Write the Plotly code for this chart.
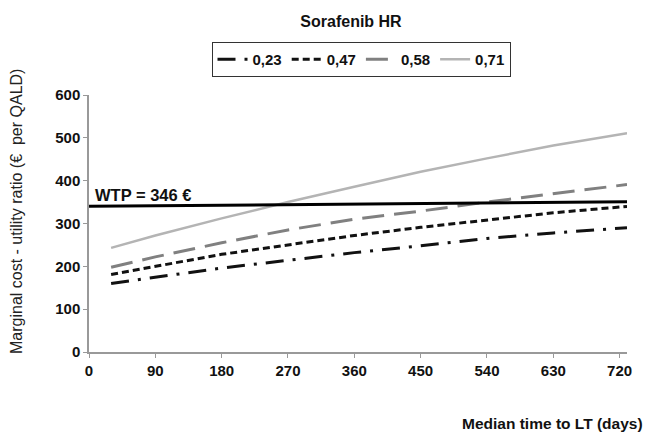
import plotly.graph_objects as go

days = [30, 90, 180, 270, 360, 450, 540, 630, 730]
hr_labels = ["0,23", "0,47", "0,58", "0,71"]
ratio_023 = [160, 175, 196, 214, 232, 248, 265, 278, 290]
ratio_047 = [181, 200, 228, 250, 272, 291, 308, 325, 340]
ratio_058 = [198, 222, 255, 285, 310, 329, 350, 370, 391]
ratio_071 = [243, 272, 312, 350, 386, 421, 452, 482, 511]
wtp_x = [0, 740]
wtp_y = [340, 351]
x_ticks = [0, 90, 180, 270, 360, 450, 540, 630, 720]
y_ticks = [0, 100, 200, 300, 400, 500, 600]

FONT = "Liberation Sans, Arial, sans-serif"

styles = [
    dict(color="#111111", width=3, dash="18px,9px,3px,9px"),
    dict(color="#111111", width=3, dash="7px,4px"),
    dict(color="#808080", width=3, dash="22px,10px"),
    dict(color="#b4b4b4", width=2.5, dash="solid"),
]

fig = go.Figure()
for lab, vals, st in zip(hr_labels, [ratio_023, ratio_047, ratio_058, ratio_071], styles):
    fig.add_trace(go.Scatter(x=days, y=vals, mode="lines", name=lab, line=st))

fig.add_trace(go.Scatter(x=wtp_x, y=wtp_y, mode="lines", showlegend=False,
                         line=dict(color="#000000", width=3), cliponaxis=False))

tickfont = dict(size=15, family=FONT, color="#111", weight="bold")

fig.update_layout(
    width=646, height=436,
    margin=dict(l=89, r=19, t=95, b=84, autoexpand=False),
    paper_bgcolor="white", plot_bgcolor="white",
    font=dict(family=FONT, size=15, color="#111"),
    title=dict(text="<b>Sorafenib HR</b>", x=(351 - 89) / 538, xref="paper",
               xanchor="center", y=1 - 21 / 436, yanchor="middle",
               font=dict(size=16, family=FONT, color="#111")),
    legend=dict(orientation="h", x=(361 - 89) / 538, xanchor="center",
                y=(352 - 42) / 257, yanchor="top",
                bordercolor="#333", borderwidth=1,
                font=dict(size=15, family=FONT, color="#111", weight="bold"),
                itemwidth=30, traceorder="normal"),
    showlegend=True,
    xaxis=dict(range=[0, 730], tickvals=x_ticks, ticks="outside", ticklen=4,
               tickcolor="#999", showline=True, linecolor="#999", linewidth=1.5,
               showgrid=False, zeroline=False, tickfont=tickfont),
    yaxis=dict(range=[0, 600], tickvals=y_ticks, ticks="outside", ticklen=4,
               tickcolor="#999", showline=True, linecolor="#999", linewidth=1.5,
               showgrid=False, zeroline=False, tickfont=tickfont),
    annotations=[
        dict(text="WTP = 346 €", x=5, y=366, xref="x", yref="y",
             xanchor="left", yanchor="middle", showarrow=False,
             font=dict(size=16.5, family=FONT, color="#111", weight="bold")),
        dict(text="Median time to LT (days)", x=1 + (645 - 627) / 538, y=(352 - 423) / 257,
             xref="paper", yref="paper", xanchor="right", yanchor="middle",
             showarrow=False, font=dict(size=15.5, family=FONT, color="#111", weight="bold")),
        dict(text="Marginal cost - utility ratio (€  per QALD)", x=(16 - 89) / 538,
             y=(352 - 212) / 257, xref="paper", yref="paper", textangle=-90,
             xanchor="center", yanchor="middle", showarrow=False,
             font=dict(size=16, family=FONT, color="#222")),
    ],
)

fig.write_html("out.html", config={"displayModeBar": False},
               post_script="document.body.style.margin='0px';document.body.style.padding='0px';")
